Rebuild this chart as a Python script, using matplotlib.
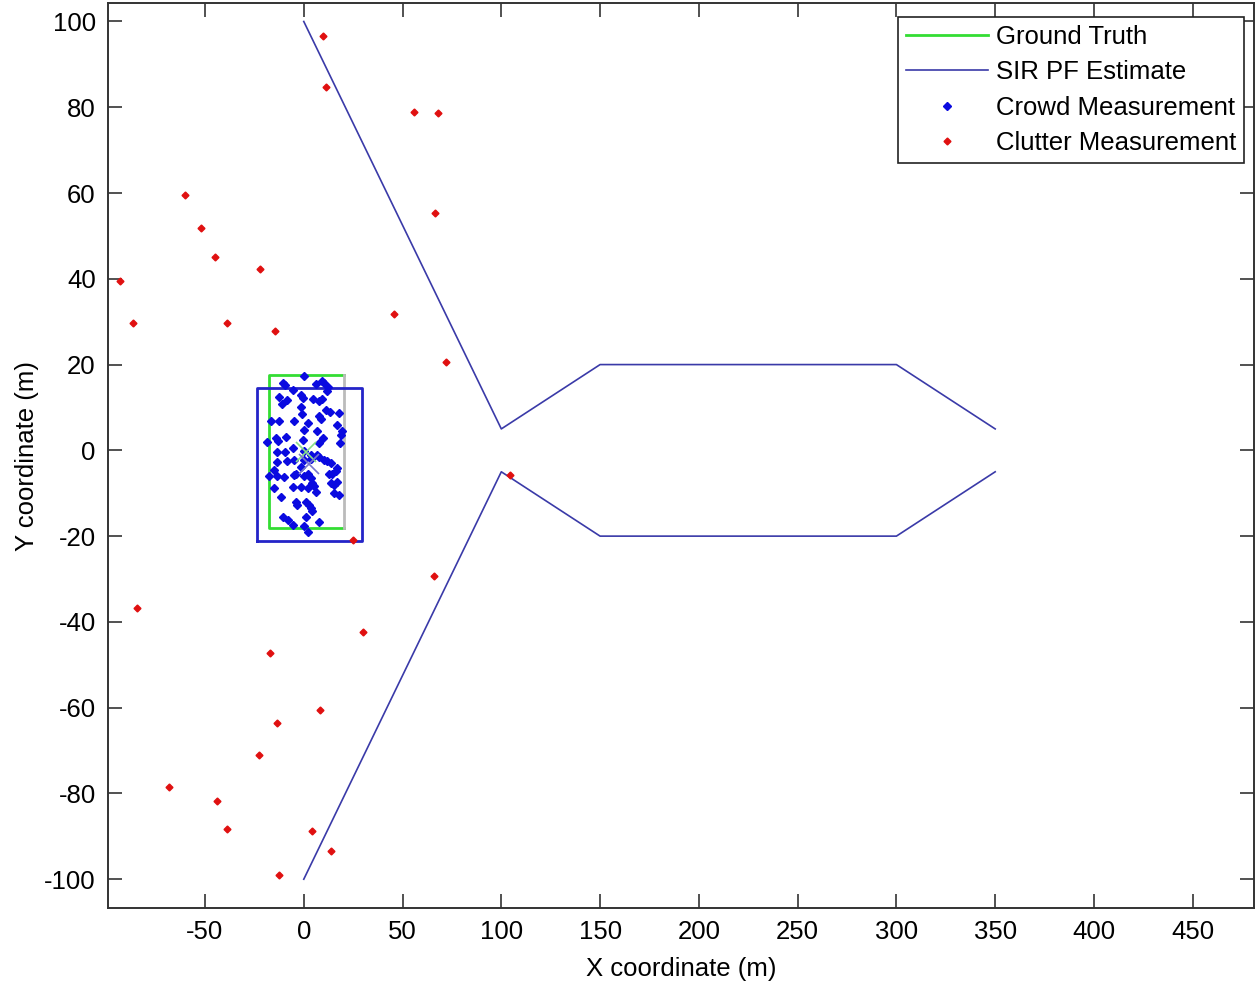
import numpy as np
import matplotlib.pyplot as plt

plt.rcParams['font.family'] = ['Liberation Sans', 'DejaVu Sans']
plt.rcParams['axes.unicode_minus'] = False

# sir pf estimate (upper and lower branch)
est_x = [0, 100, 150, 300, 350]
est_y_up = [100, 5, 20, 20, 5]
est_y_dn = [-100, -5, -20, -20, -5]

# ground truth and estimate boxes: x0, x1, y0, y1
gt_box = [-17.5, 20.3, -18.2, 17.5]
est_box = [-23.9, 29.7, -21.1, 14.5]
gt_centre = [1.0, -0.4]
est_centre = [2.5, -3.2]

crowd_x = [0.2, -10.3, -9.4, -5.7, 6.1, 9.4, 10.3, 12.3, 11.6, -12.5, -1.5, -0.3, -10.8, -8.3,
           4.9, 7.8, 9.4, -1.5, 11.1, 13.3, 17.9, -1.0, -16.7, -12.5, -4.9, 1.9, 7.8, 8.6, 17.0,
           0.2, 6.6, 19.6, 18.7, -18.4, -14.2, -12.8, -9.1, -0.2, 9.9, 7.8, 18.4, -13.3, -9.4,
           -5.2, 0.2, 3.5, 6.6, 7.8, 10.3, 12.0, 13.7, 17.0, 16.2, 14.5, -13.3, -8.3, -4.9, -1.5,
           0.2, 3.9, -15.3, -13.3, -17.5, -9.9, -4.9, -4.1, 0.2, 1.9, 3.5, 4.4, 5.2, 12.8, 13.7,
           15.3, 17.0, -15.0, -5.7, -1.5, 1.9, 6.1, 15.3, 17.9, -11.6, -4.1, -3.2, 1.0, 2.7, 3.5,
           4.4, 1.0, -10.3, -7.8, -5.7, 0.2, 7.8, 1.9]
crowd_y = [17.3, 15.8, 15.2, 14.1, 15.5, 16.2, 15.6, 14.8, 13.9, 12.5, 12.9, 12.3, 10.9, 11.7,
           11.9, 11.6, 11.9, 10.0, 9.4, 9.0, 8.8, 8.5, 6.8, 6.8, 6.8, 6.4, 8.0, 7.2, 5.9,
           4.7, 4.5, 4.5, 3.6, 2.0, 2.8, 2.2, 3.0, 2.4, 2.8, 1.6, 1.6, -0.3, -0.4,
           0.5, -0.1, -1.1, -1.1, -1.5, -2.3, -2.5, -3.0, -4.0, -4.8, -5.4, -2.6, -2.5, -2.3, -3.8,
           -2.3, -2.0, -4.6, -6.0, -6.0, -6.1, -5.8, -5.4, -6.0, -5.4, -6.5, -7.5, -8.3, -5.6, -7.7,
           -8.1, -7.3, -8.7, -8.5, -8.5, -8.7, -9.6, -10.0, -10.3, -10.8, -12.0, -12.8, -12.0, -12.8, -13.5,
           -14.1, -15.5, -15.5, -16.2, -17.4, -17.6, -16.6, -19.0]

clutter_x = [9.6, 11.1, 55.6, 67.8, -60.2, -52.1, 66.3, -45.0, -22.3, -93.1, 45.5, -86.5, -38.9,
             -14.7, 71.8, 104.2, 24.8, 65.8, -84.5, 29.8, -17.2, 8.1, -13.7, -22.8, -68.3, -44.0,
             -38.9, 4.0, 13.7, -12.6]
clutter_y = [96.6, 84.7, 78.9, 78.6, 59.5, 51.8, 55.3, 45.1, 42.3, 39.5, 31.8, 29.7, 29.7,
             27.8, 20.6, -5.7, -20.9, -29.3, -36.8, -42.4, -47.3, -60.6, -63.6, -71.1, -78.5, -81.8,
             -88.3, -88.8, -93.4, -99.0]

green = '#33dd33'
navy = '#3a3aa8'
fs = 18.5

fig = plt.figure(figsize=(12.58, 9.82), dpi=100)
ax = fig.add_axes([0.086, 0.0754, 0.9108, 0.9215])

ax.plot(est_x, est_y_up, color=navy, lw=1.2, label='SIR PF Estimate')
ax.plot(est_x, est_y_dn, color=navy, lw=1.2)

x0, x1, y0, y1 = gt_box
ax.plot([x1, x0, x0, x1], [y1, y1, y0, y0], color=green, lw=2, label='Ground Truth')
ax.plot([x1, x1], [y0, y1], color='#bbbbbb', lw=2)
x0, x1, y0, y1 = est_box
ax.plot([x0, x1, x1, x0, x0], [y0, y0, y1, y1, y0], color='#2424c8', lw=2)

ax.plot(crowd_x, crowd_y, 'D', color='#0a0ae0', ms=4.5, ls='none', label='Crowd Measurement')
ax.plot(clutter_x, clutter_y, 'D', color='#e01010', ms=3.5, ls='none', label='Clutter Measurement')
ax.plot(*gt_centre, 'x', color='#88dd88', ms=14, mew=1.2)
ax.plot(*est_centre, 'x', color='#7777cc', ms=14, mew=1.2)

ax.set_xlim(-99, 481)
ax.set_ylim(-106.7, 104.3)
ax.set_xticks(np.arange(-50, 451, 50))
ax.set_yticks(np.arange(-100, 101, 20))
ax.tick_params(direction='in', length=10, width=1.2, top=True, right=True,
               labelsize=fs, colors='#333333', labelcolor='black', pad=9)
for s in ax.spines.values():
    s.set_color('#333333')
    s.set_linewidth(1.4)
ax.set_xlabel('X coordinate (m)', fontsize=fs, labelpad=9)
ax.set_ylabel('Y coordinate (m)', fontsize=fs, labelpad=4)

h, l = ax.get_legend_handles_labels()
order = [1, 0, 2, 3]
leg = ax.legend([h[i] for i in order], [l[i] for i in order], loc='upper right',
                bbox_to_anchor=(0.9913, 0.9845), fontsize=fs, handlelength=3.2,
                fancybox=False, framealpha=1, borderpad=0.3, labelspacing=0.45,
                handletextpad=0.3, borderaxespad=0)
leg.get_frame().set_edgecolor('#222222')
leg.get_frame().set_linewidth(1.2)

fig.savefig('out.png', dpi=100)
